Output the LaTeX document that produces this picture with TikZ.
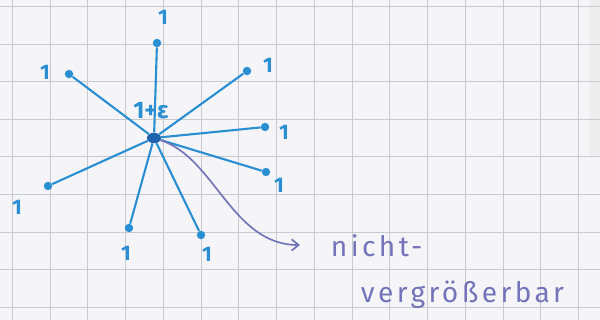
\documentclass[tikz,border=0pt]{standalone}
\usepackage{fontspec}
\setmainfont{Fira Sans}
\newfontfamily\handfont[LetterSpace=12]{Fira Sans}
\usepackage{tikz}
\usetikzlibrary{arrows.meta}
\usetikzlibrary{shapes.geometric}
\definecolor{paper}{HTML}{F5F5F7}
\definecolor{gridline}{HTML}{C8CAD2}
\definecolor{pen}{HTML}{2A8FD2}
\definecolor{pendark}{HTML}{1E63AE}
\definecolor{ink}{HTML}{7474BA}

\begin{document}
\begin{tikzpicture}[x=0.025cm, y=-0.025cm,
    leaf/.style={circle, fill=pen, inner sep=0pt, minimum size=6pt},
    hub/.style={ellipse, fill=pendark, inner sep=0pt, minimum width=10pt, minimum height=7.5pt},
    spoke/.style={pen, line width=1.5pt},
    one/.style={text=pen, font=\bfseries\fontsize{15}{15}\selectfont},
    note/.style={text=ink, anchor=west, font=\handfont\fontsize{20}{20}\selectfont}]
    \useasboundingbox (0,0) rectangle (600,320);
    \fill[paper] (0,0) rectangle (600,320);
    \fill[black!7] (590,0) rectangle (600,155);
    \foreach \i in {0,...,15}
        \draw[gridline, line width=0.6pt] (12.3+37.75*\i,0) -- (12.3+37.75*\i,320);
    \foreach \j in {0,...,8}
        \draw[gridline, line width=0.6pt] (0,6.5+37.6*\j) -- (600,6.5+37.6*\j);

    \node[hub] (c) at (154,138) {};
    \node[leaf] (t) at (157,43) {};
    \node[leaf] (ul) at (69,74) {};
    \node[leaf] (ur) at (247,71) {};
    \node[leaf] (r) at (265,127) {};
    \node[leaf] (lr) at (266,172) {};
    \node[leaf] (l) at (48,186) {};
    \node[leaf] (bl) at (129,228) {};
    \node[leaf] (br) at (201,235) {};

    \foreach \n in {t,ul,ur,r,lr,l,bl,br}
        \draw[spoke] (c) -- (\n);

    \node[one] (t-w) at (163,17) {1};
    \node[one] (ul-w) at (45,72) {1};
    \node[one] (ur-w) at (268,65) {1};
    \node[one] (r-w) at (284,132) {1};
    \node[one] (lr-w) at (279,185) {1};
    \node[one] (l-w) at (17,207) {1};
    \node[one] (bl-w) at (126,253) {1};
    \node[one] (br-w) at (207,254) {1};
    \node[one, font=\bfseries\fontsize{17}{17}\selectfont] (c-w) at (151,111) {1+ε};

    \coordinate (tip) at (300,245);
    \draw[ink, line width=1.2pt, -{Straight Barb[length=5pt, width=8pt]}]
        (c) .. controls (215,158) and (232,245) .. (tip);
    \node[note] (n1) at (326,246) {nicht-};
    \node[note] (n2) at (356,295) {vergrößerbar};
\end{tikzpicture}
\end{document}
